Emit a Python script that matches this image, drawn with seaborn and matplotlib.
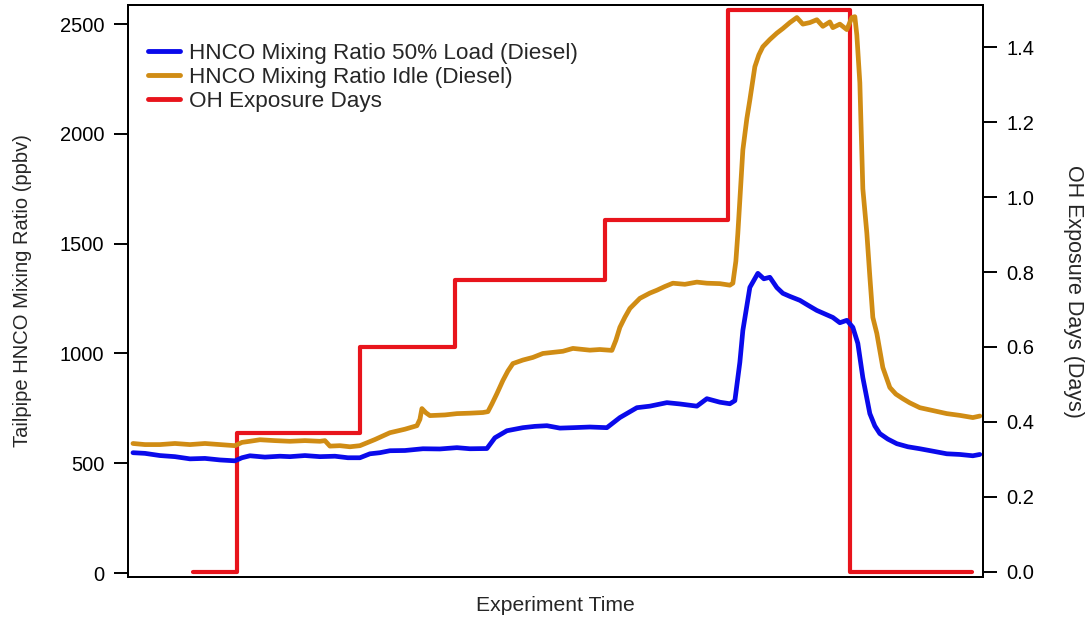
import numpy as np
import pandas as pd
import matplotlib
matplotlib.use("Agg")
import matplotlib.pyplot as plt
import seaborn as sns

# ---- data (time in arbitrary experiment units) ----
load_time = [0, 12, 27, 42, 57, 72, 87, 102, 109, 117, 132, 147, 157, 172, 187, 202, 215,
             227, 237, 247, 257, 272, 290, 307, 324, 337, 354, 362, 374, 390, 402, 414, 427,
             440, 457, 474, 487, 504, 517, 534, 547, 564, 574, 587, 597, 602, 607, 610, 617,
             625, 631, 637, 644, 650, 657, 667, 675, 684, 692, 700, 707, 714, 720, 725, 730,
             737, 742, 747, 755, 764, 775, 787, 800, 814, 827, 840, 847]
load_ppbv = [548, 545, 535, 530, 520, 522, 515, 511, 525, 534, 528, 532, 530, 535, 530, 532, 525,
             525, 543, 548, 557, 558, 566, 565, 571, 566, 567, 616, 648, 662, 668, 671, 660,
             662, 665, 662, 708, 753, 760, 776, 770, 760, 794, 778, 771, 785, 960, 1105, 1301,
             1365, 1340, 1347, 1300, 1274, 1260, 1242, 1220, 1196, 1180, 1164, 1140, 1151, 1119, 1046, 890,
             726, 670, 635, 610, 589, 575, 566, 555, 543, 540, 534, 540]

idle_time = [0, 12, 27, 42, 57, 72, 87, 102, 109, 117, 127, 142, 157, 172, 187, 192, 197,
             207, 217, 227, 242, 257, 272, 284, 287, 289, 293, 297, 312, 324, 337, 350, 355,
             359, 364, 370, 375, 380, 390, 400, 410, 420, 430, 440, 457, 467, 479, 483, 487,
             492, 497, 507, 517, 524, 532, 540, 552, 564, 574, 587, 597, 600, 603, 605, 610,
             614, 617, 622, 626, 630, 637, 644, 650, 657, 664, 670, 677, 684, 690, 697, 700,
             707, 714, 719, 722, 724, 727, 730, 734, 737, 740, 744, 750, 757, 763, 770, 777,
             787, 800, 814, 827, 840, 847]
idle_ppbv = [590, 585, 585, 590, 585, 590, 585, 580, 595, 600, 607, 603, 600, 603, 600, 603, 578,
             580, 575, 580, 608, 639, 655, 671, 700, 749, 730, 717, 720, 726, 728, 731, 735,
             770, 817, 877, 920, 954, 970, 982, 1000, 1005, 1010, 1023, 1015, 1018, 1014, 1060, 1119,
             1165, 1205, 1251, 1275, 1288, 1305, 1320, 1315, 1325, 1320, 1318, 1311, 1320, 1420, 1548, 1927,
             2070, 2155, 2306, 2360, 2397, 2430, 2459, 2480, 2507, 2530, 2500, 2507, 2520, 2490, 2510, 2484,
             2500, 2475, 2530, 2534, 2450, 2233, 1750, 1548, 1350, 1164, 1091, 936, 845, 815, 794, 775,
             753, 740, 726, 718, 708, 715]

oh_time = [60, 104, 227, 322, 472, 595, 717, 839]
oh_days = [0.0, 0.37, 0.60, 0.78, 0.94, 1.50, 0.0, 0.0]

labels = ["HNCO Mixing Ratio 50% Load (Diesel)",
          "HNCO Mixing Ratio Idle (Diesel)",
          "OH Exposure Days"]
colors = ["#0A0AEB", "#D08C14", "#E8141C"]

# ---- style ----
sns.set_theme(style="white")
plt.rcParams["font.family"] = ["Liberation Sans", "DejaVu Sans"]

fig = plt.figure(figsize=(10.89, 6.2), dpi=100)
ax = fig.add_axes([0.1175, 0.0694, 0.785, 0.9225])
ax2 = ax.twinx()

lw = 3.4
sns.lineplot(x=load_time, y=load_ppbv, ax=ax, color=colors[0], lw=lw, label=labels[0], legend=False)
sns.lineplot(x=idle_time, y=idle_ppbv, ax=ax, color=colors[1], lw=lw, label=labels[1], legend=False)
sns.lineplot(x=oh_time, y=oh_days, ax=ax2, color=colors[2], lw=3.0, label=labels[2],
             drawstyle="steps-post", legend=False)

ax.set_xlim(-5, 850)
ax.set_ylim(-18, 2587)
ax2.set_ylim(-0.0133, 1.512)
ax.set_yticks([0, 500, 1000, 1500, 2000, 2500])
ax2.set_yticks([0.0, 0.2, 0.4, 0.6, 0.8, 1.0, 1.2, 1.4])
ax2.set_yticklabels(["0.0", "0.2", "0.4", "0.6", "0.8", "1.0", "1.2", "1.4"])
ax.set_xticks([])

for a in (ax, ax2):
    for s in a.spines.values():
        s.set_color("black")
        s.set_linewidth(1.4)
    a.tick_params(axis="y", direction="out", length=10, width=1.4, colors="black",
                  labelsize=14.5, pad=7)

ax.set_xlabel("Experiment Time", fontsize=15.2, labelpad=14)
ax.set_ylabel("Tailpipe HNCO Mixing Ratio (ppbv)", fontsize=14.5, labelpad=20)
ax2.set_ylabel("OH Exposure Days (Days)", fontsize=15.5, rotation=270, labelpad=36)

h1, l1 = ax.get_legend_handles_labels()
h2, l2 = ax2.get_legend_handles_labels()
leg = ax.legend(h1 + h2, l1 + l2, loc="upper left", bbox_to_anchor=(-0.009, 0.983),
                frameon=False, fontsize=16.2, handlelength=1.4, handletextpad=0.4,
                labelspacing=0.13, borderaxespad=0.85)
for line in leg.get_lines():
    line.set_linewidth(3.5)
ax.set_zorder(ax2.get_zorder() + 1)
ax.patch.set_visible(False)

fig.savefig("out.png", dpi=100)
